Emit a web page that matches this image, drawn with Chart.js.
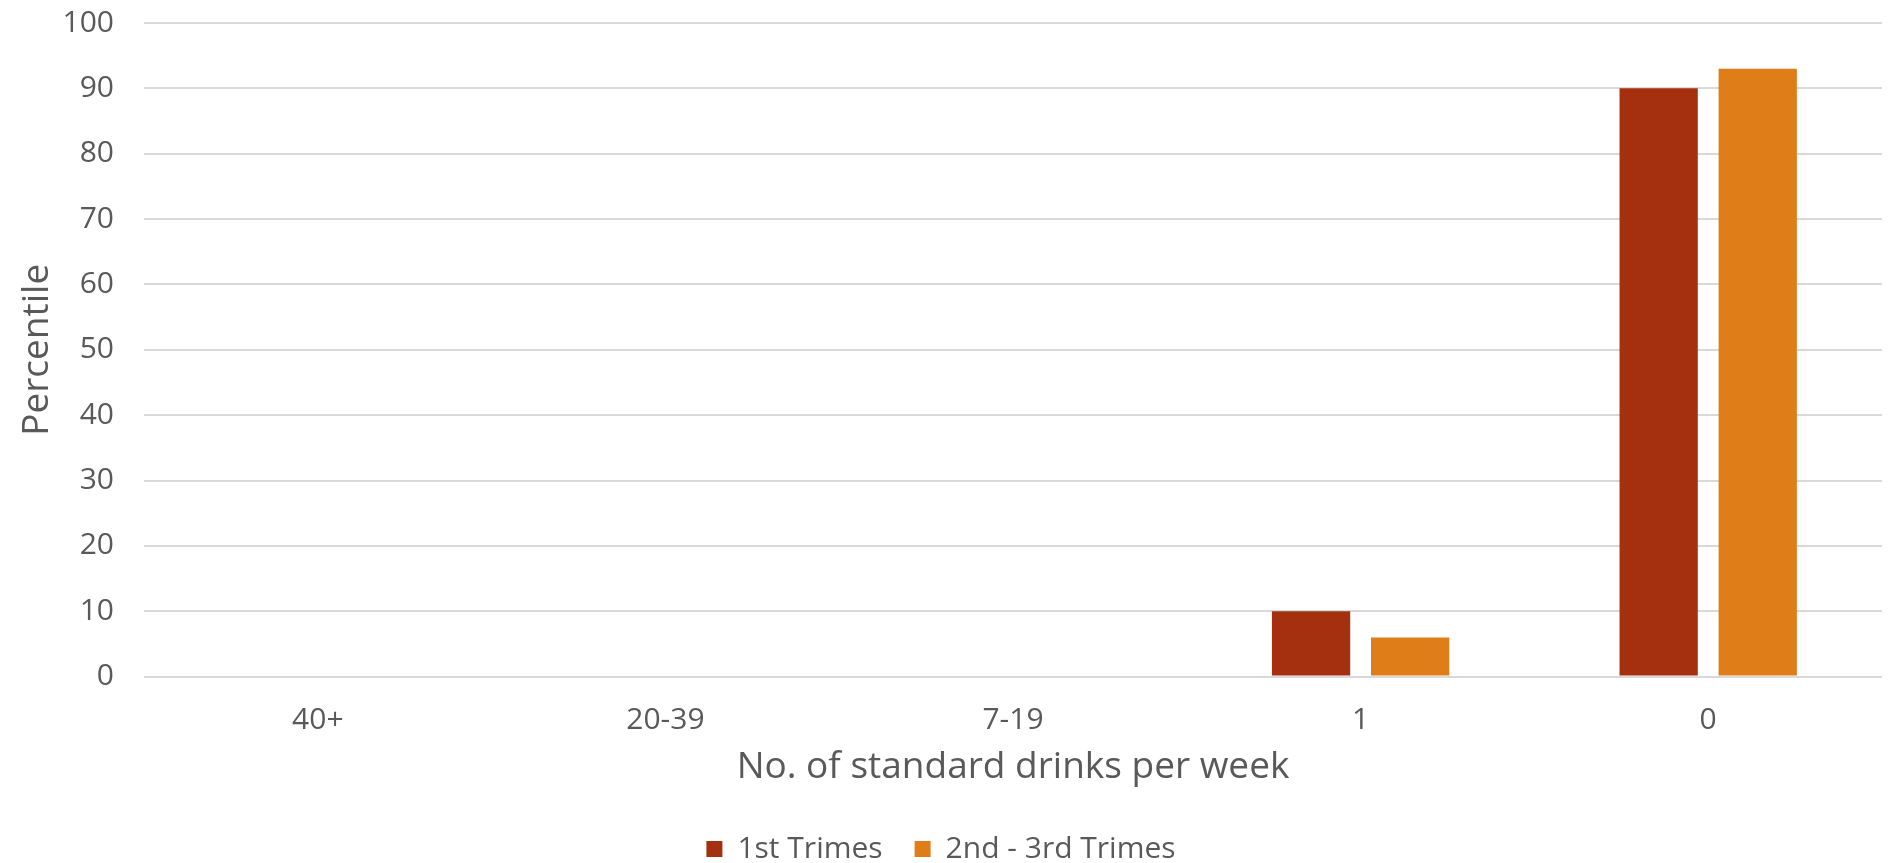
<!DOCTYPE html>
<html>
<head>
<meta charset="utf-8">
<script src="https://cdn.jsdelivr.net/npm/chart.js@4.4.1/dist/chart.umd.min.js"></script>
<style>
  html, body { margin: 0; padding: 0; background: #fff; }
  #wrap { width: 1891px; height: 863px; }
</style>
</head>
<body>
<div id="wrap"><canvas id="drinks_chart"></canvas></div>
<script>
"use strict";
// data
var categories = ['40+', '20-39', '7-19', '1', '0'];
var firstTrimes = [0, 0, 0, 10, 90];
var laterTrimes = [0, 0, 0, 6, 93];
var yTicks = [0, 10, 20, 30, 40, 50, 60, 70, 80, 90, 100];

var textColor = '#595959';
var gridColor = '#d9d9d9';
var fontFamily = '"Open Sans", sans-serif';

var ctx = document.getElementById('drinks_chart');

var chart = new Chart(ctx, {
    type: 'bar',
    data: {
        labels: categories,
        datasets: [
            {
                label: '1st Trimes',
                data: firstTrimes,
                backgroundColor: '#a5300f',
                categoryPercentage: 0.57,
                barPercentage: 0.79
            },
            {
                label: '2nd - 3rd Trimes',
                data: laterTrimes,
                backgroundColor: '#df7e18',
                categoryPercentage: 0.57,
                barPercentage: 0.79
            }
        ]
    },
    options: {
        responsive: true,
        maintainAspectRatio: false,
        animation: false,
        layout: { padding: { top: 23, right: 9, left: 0, bottom: -11 } },
        plugins: {
            title: { display: false },
            tooltip: { enabled: false },
            legend: {
                position: 'bottom',
                labels: {
                    color: textColor,
                    font: { family: fontFamily, size: 30 },
                    boxWidth: 16,
                    boxHeight: 16,
                    padding: 32
                }
            }
        },
        scales: {
            x: {
                grid: { display: false },
                border: { display: false },
                ticks: { color: textColor, font: { family: fontFamily, size: 30 }, padding: 18 },
                title: {
                    display: true,
                    text: 'No. of standard drinks per week',
                    color: textColor,
                    font: { family: fontFamily, size: 37 },
                    padding: { top: -11, bottom: 12 }
                }
            },
            y: {
                min: 0,
                max: 100,
                afterBuildTicks: function (scale) {
                    scale.ticks = yTicks.map(function (v) { return { value: v }; });
                },
                afterFit: function (scale) { scale.width = 144; },
                grid: { color: gridColor, lineWidth: 2, drawTicks: true, tickLength: 28, tickColor: 'rgba(0,0,0,0)' },
                border: { display: false },
                ticks: { color: textColor, font: { family: fontFamily, size: 30 }, padding: 2 },
                title: {
                    display: true,
                    text: 'Percentile',
                    color: textColor,
                    font: { family: fontFamily, size: 37 },
                    padding: { top: 15, bottom: 0 }
                }
            }
        }
    }
});
</script>
</body>
</html>
